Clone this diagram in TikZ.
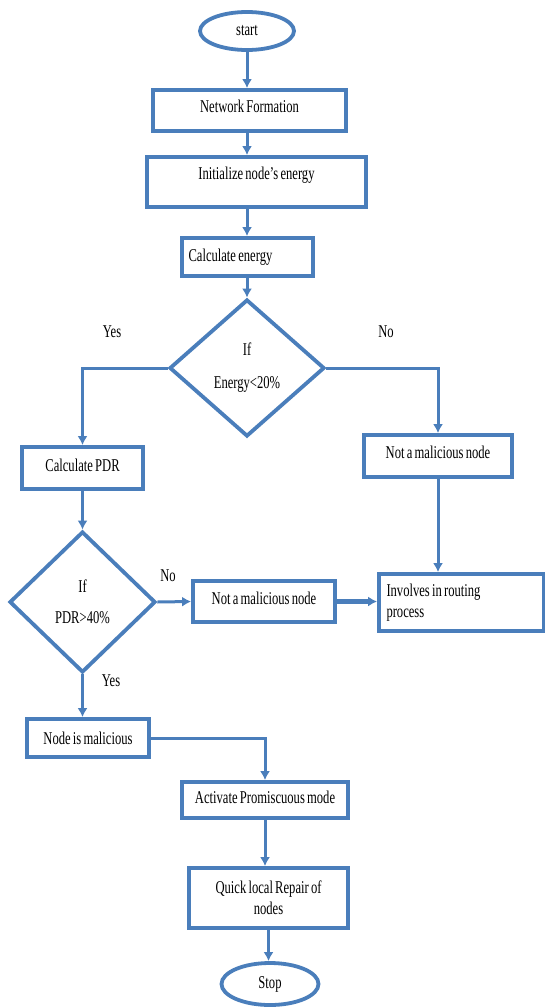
\documentclass[tikz,border=0pt]{standalone}
\usepackage{fontspec}
\setmainfont{Liberation Serif}[FakeStretch=0.7, WordSpace=0.7]
\usepackage{tikz}
\usetikzlibrary{arrows.meta}
\usetikzlibrary{shapes.geometric}
\definecolor{flowblue}{RGB}{74,126,187}
\tikzstyle{block} = [draw=flowblue, line width=3.8pt, rectangle,
	inner sep=0pt]
\tikzstyle{decision} = [draw=flowblue, line width=3.8pt, diamond,
	inner sep=0pt, align=center]
\tikzstyle{term} = [draw=flowblue, line width=3.8pt, ellipse,
	inner sep=0pt]
\tikzstyle{arrow} = [-{Latex[length=9pt,width=10pt]}, draw=flowblue, line width=3pt]
\tikzstyle{lbl} = [inner sep=0pt]

\begin{document}
\begin{tikzpicture}[x=1pt, y=-1pt, font=\fontsize{18}{21}\selectfont]
			\useasboundingbox (0,0) rectangle (545,1007);
			
			\node (start) [term, minimum width=94pt, minimum height=38pt] at (247,31) {start};
			\node (netform) [block, minimum width=193pt, minimum height=41pt, text depth=8pt] at (249.5,110.5) {Network Formation};
			\node (init) [block, minimum width=219pt, minimum height=50pt, text depth=18pt] at (256.5,182) {Initialize node's energy};
			\node (calcen) [block, minimum width=131pt, minimum height=38pt, text width=118pt, align=flush left] at (247.5,257) {Calculate energy};
			\draw [arrow] (start) -- (start |- netform.north);
			\draw [arrow] (start |- netform.south) -- (start |- init.north);
			\draw [arrow] (start |- init.south) -- (start |- calcen.north);
			
			\node (dec1) [decision, minimum width=155pt, minimum height=137pt] at (247,368) {If\\[12pt]Energy<20\%};
			\draw [arrow] (start |- calcen.south) -- (dec1.north);
			\node (yes1) [lbl] at (112,332) {Yes};
			\node (no1) [lbl] at (386,332) {No};
			
			\node (calcpdr) [block, minimum width=121pt, minimum height=42pt, text depth=6pt] at (82.5,468) {Calculate PDR};
			\node (notmal1) [block, minimum width=148pt, minimum height=42pt, text depth=8pt] at (438,456) {Not a malicious node};
			\draw [arrow] (dec1.west) -| (calcpdr.north);
			\draw [arrow] (dec1.east) -| (notmal1.north);
			
			\node (dec2) [decision, minimum width=146pt, minimum height=141pt] at (82.5,602) {If\\[10pt]PDR>40\%};
			\draw [arrow] (calcpdr.south) -- (dec2.north);
			\node (no2) [lbl] at (168,576) {No};
			
			\node (notmal2) [block, minimum width=142pt, minimum height=41pt, text depth=7pt] at (264,601.5) {Not a malicious node};
			\node (involves) [block, minimum width=165pt, minimum height=57pt, text width=150pt, align=flush left] at (461.5,602.5) {Involves in routing\\process};
			\draw [arrow] (dec2.east) -- (notmal2.west);
			\draw [arrow, line width=4.2pt] (notmal2.east) -- (notmal2.east -| involves.west);
			\draw [arrow] (notmal1.south) -- (notmal1.south |- involves.north);
			
			\node (yes2) [lbl] at (111,681) {Yes};
			\node (nodemal) [block, minimum width=122pt, minimum height=38pt] at (88,738) {Node is malicious};
			\draw [arrow] (dec2.south) -- (dec2.south |- nodemal.north);
			
			\node (activ) [block, minimum width=166pt, minimum height=36pt, text depth=6pt] at (265,800) {Activate Promiscuous mode};
			\draw [arrow] (nodemal.east) -| (activ.north);
			
			\node (quick) [block, minimum width=159pt, minimum height=60pt, align=center] at (268.5,898) {Quick local Repair of\\nodes};
			\draw [arrow] (activ.south) -- (activ.south |- quick.north);
			
			\node (stop) [term, minimum width=97pt, minimum height=42pt] at (270,984) {Stop};
			\draw [arrow] (quick.south) -- (quick.south |- stop.north);
		\end{tikzpicture}
\end{document}
